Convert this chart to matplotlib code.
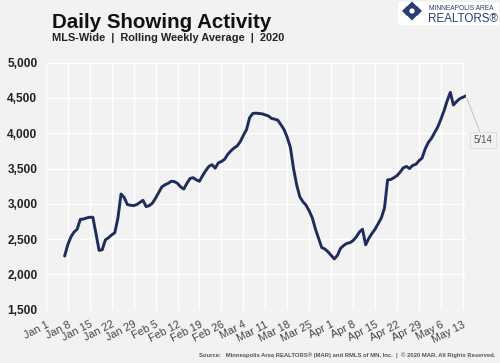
# Daily showing activity chart (MLS-wide, rolling weekly average, 2020)

import matplotlib.pyplot as plt
import matplotlib.dates as mdates
from matplotlib.patches import Rectangle, Circle, RegularPolygon
import pandas as pd

plt.rcParams['font.family'] = ['Liberation Sans', 'DejaVu Sans']

# daily values, Jan 7 through May 14 2020
start_date = "2020-01-07"
showings = [
    2260, 2420, 2530, 2600, 2640, 2780, 2785, 2800, 2810, 2810,   # Jan 7-16
    2580, 2340, 2350, 2490, 2520, 2560, 2590, 2800, 3140, 3090,   # Jan 17-26
    2990, 2980, 2975, 2990, 3020, 3050, 2960, 2975, 3010, 3080,   # Jan 27-Feb 5
    3160, 3240, 3270, 3290, 3320, 3315, 3290, 3240, 3210, 3290,   # Feb 6-15
    3360, 3370, 3340, 3320, 3400, 3470, 3530, 3555, 3505, 3580,   # Feb 16-25
    3600, 3630, 3700, 3750, 3790, 3820, 3880, 3970, 4050, 4220,   # Feb 26-Mar 6
    4280, 4285, 4280, 4275, 4260, 4245, 4210, 4200, 4185, 4120,   # Mar 7-16
    4050, 3940, 3800, 3500, 3270, 3100, 3030, 2980, 2900, 2800,   # Mar 17-26
    2640, 2510, 2380, 2360, 2320, 2270, 2220, 2270, 2370, 2410,   # Mar 27-Apr 5
    2440, 2450, 2480, 2530, 2600, 2640, 2420, 2510, 2580, 2640,   # Apr 6-15
    2720, 2800, 2940, 3340, 3345, 3370, 3400, 3450, 3510, 3530,   # Apr 16-25
    3500, 3545, 3560, 3610, 3650, 3780, 3870, 3930, 4010, 4090,   # Apr 26-May 5
    4200, 4320, 4460, 4580, 4400, 4450, 4490, 4510, 4530,         # May 6-14
]
dates = pd.date_range(start_date, periods=len(showings), freq="D")

tick_dates = pd.date_range("2020-01-01", "2020-05-13", freq="7D")
tick_labels = [d.strftime("%b ") + str(d.day) for d in tick_dates]
y_ticks = [1500, 2000, 2500, 3000, 3500, 4000, 4500, 5000]

bg = "#f2f2f2"
navy = "#1e2d5c"
logo_blue = "#2a3d73"

fig = plt.figure(figsize=(5, 3.63), dpi=100)
fig.patch.set_facecolor(bg)
ax = fig.add_axes([0.0916, 0.1468, 0.8404, 0.6805])
ax.set_facecolor(bg)

ax.plot(dates, showings, color=navy, lw=2.1, solid_capstyle="round",
        solid_joinstyle="round", zorder=3)

ax.set_xlim(pd.Timestamp("2020-01-01"), pd.Timestamp("2020-05-14"))
ax.set_ylim(1500, 5000)
ax.set_yticks(y_ticks)
ax.set_yticklabels([f"{v:,}" for v in y_ticks], fontsize=8.6, fontweight="bold",
                   color="#222222")
ax.set_xticks(tick_dates)
ax.set_xticklabels(tick_labels, rotation=27, ha="right", rotation_mode="anchor",
                   fontsize=7.8, color="#444444")
ax.tick_params(axis="both", length=0)
ax.tick_params(axis="y", pad=6)
ax.tick_params(axis="x", pad=7)
ax.grid(True, color="white", lw=1)
ax.set_axisbelow(True)
for s in ax.spines.values():
    s.set_visible(False)

# end label
last_x = mdates.date2num(dates[-1])
ax.annotate("5/14", xy=(last_x, showings[-1]), xycoords="data",
            xytext=(483, 223), textcoords="figure pixels",
            fontsize=7, color="#555555", ha="center", va="center",
            annotation_clip=False,
            bbox=dict(boxstyle="square,pad=0.35", fc=bg, ec="#dddddd", lw=0.6),
            arrowprops=dict(arrowstyle="-", color="#bbbbbb", lw=0.6,
                            shrinkA=0, shrinkB=2))

# title block
fig.text(52 / 500, 1 - 28 / 363, "Daily Showing Activity", fontsize=14.8,
         fontweight="bold", color="#111111")
fig.text(52 / 500, 1 - 41 / 363, "MLS-Wide  |  Rolling Weekly Average  |  2020",
         fontsize=7.9, fontweight="bold", color="#222222")

# logo
fig.patches.append(Rectangle((398 / 500, 1 - 25 / 363), 101 / 500, 23 / 363,
                             transform=fig.transFigure, fc="white", ec="none"))
for dx, dy in [(0, 4.5), (0, -4.5), (5, 0), (-5, 0)]:
    fig.patches.append(RegularPolygon((412 + dx, 352 + dy), 4, radius=5,
                                      transform=None, fc=logo_blue, ec="none"))
fig.patches.append(Circle((412, 352), 2.6, transform=None, fc="white", ec="none"))
fig.text(429 / 500, 1 - 10 / 363, "MINNEAPOLIS AREA", fontsize=4.8,
         color=logo_blue)
fig.text(428 / 500, 1 - 22 / 363, "REALTORS\u00ae", fontsize=8.4,
         color=logo_blue)

# source
fig.text(495 / 500, 1 - 357 / 363,
         "Source:   Minneapolis Area REALTORS\u00ae (MAR) and RMLS of MN, Inc.  |  "
         "\u00a9 2020 MAR. All Rights Reserved.",
         fontsize=4.2, fontweight="bold", color="#555555", ha="right")

fig.savefig("out.png", dpi=100, facecolor=bg)
